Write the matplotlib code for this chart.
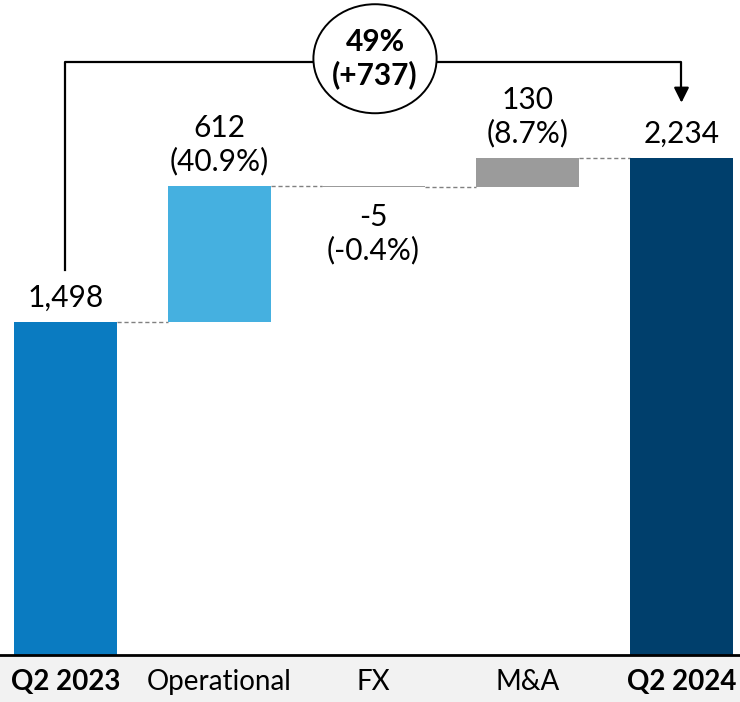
import matplotlib
matplotlib.use("Agg")
import matplotlib.pyplot as plt
from matplotlib.patches import Ellipse

categories = ["Q2 2023", "Operational", "FX", "M&A", "Q2 2024"]
values = [1498, 612, -5, 130, 2234]
kinds = ["total", "delta", "delta", "delta", "total"]
value_labels = ["1,498", "612\n(40.9%)", "-5\n(-0.4%)", "130\n(8.7%)", "2,234"]
bold_cats = [True, False, False, False, True]
colors = ["#0A7BC1", "#45B0E0", "#9B9B9B", "#9B9B9B", "#003F6C"]
growth_label = "49%\n(+737)"

plt.rcParams['font.family'] = ['Lato', 'DejaVu Sans']

W, H = 740, 702
fig = plt.figure(figsize=(W / 100, H / 100), dpi=100)
bg = fig.add_axes([0, 0, 1, 47 / H], zorder=-1)
bg.set_facecolor("#F2F2F2")
bg.set_axis_off()
bg.add_patch(plt.Rectangle((0, 0), 1, 1, transform=bg.transAxes,
                           facecolor="#F2F2F2", edgecolor="none"))

ax = fig.add_axes([0, 47 / H, 1, 655 / H])
ax.patch.set_alpha(0)
ax.set_xlim(-0.425, 4.38)
ax.set_ylim(0, 2944)
for s in ["top", "right", "left"]:
    ax.spines[s].set_visible(False)
ax.spines["bottom"].set_linewidth(2)
ax.set_yticks([])
ax.set_xticks(range(len(categories)))
ax.set_xticklabels(categories, fontsize=20)
ax.tick_params(axis="x", length=0, pad=10)
for lab, b in zip(ax.get_xticklabels(), bold_cats):
    if b:
        lab.set_fontweight("bold")

bw = 0.67
running = 0
tops = []
for i, (v, k) in enumerate(zip(values, kinds)):
    if k == "total":
        bottom, height = 0, v
        running = v
    else:
        bottom = running if v >= 0 else running + v
        height = abs(v)
        running = running + v
    ax.bar(i, height, bottom=bottom, width=bw, color=colors[i], zorder=2)
    tops.append((bottom, bottom + height, running))

# connectors
for i in range(len(values) - 1):
    level = tops[i][2] if kinds[i] == "delta" else values[i]
    ax.plot([i + bw / 2, i + 1 - bw / 2], [level, level], ls=(0, (3, 2)),
            color="#808080", lw=1, zorder=1)

# labels
for i, (v, lab) in enumerate(zip(values, value_labels)):
    b, t, _ = tops[i]
    if v >= 0:
        ax.text(i, t + 45, lab, ha="center", va="bottom", fontsize=21.5,
                linespacing=1.2)
    else:
        ax.text(i, b - 75, lab, ha="center", va="top", fontsize=21.5,
                linespacing=1.2)

# growth bracket
ybr = 2665
ax.plot([0, 0, 4, 4], [1730, ybr, ybr, 2530], color="black", lw=1.6, zorder=3)
ax.annotate("", xy=(4, 2470), xytext=(4, 2540),
            arrowprops=dict(arrowstyle="-|>,head_width=0.45,head_length=0.9",
                            color="black", lw=1.6), zorder=3)
ax.add_patch(Ellipse((2.01, 2680), 0.80, 490, facecolor="white",
                     edgecolor="black", lw=1.4, zorder=4))
ax.text(2.01, 2680, growth_label, ha="center", va="center", fontsize=21.5,
        fontweight="bold", linespacing=1.2, zorder=5)

fig.savefig("out.png", dpi=100)
